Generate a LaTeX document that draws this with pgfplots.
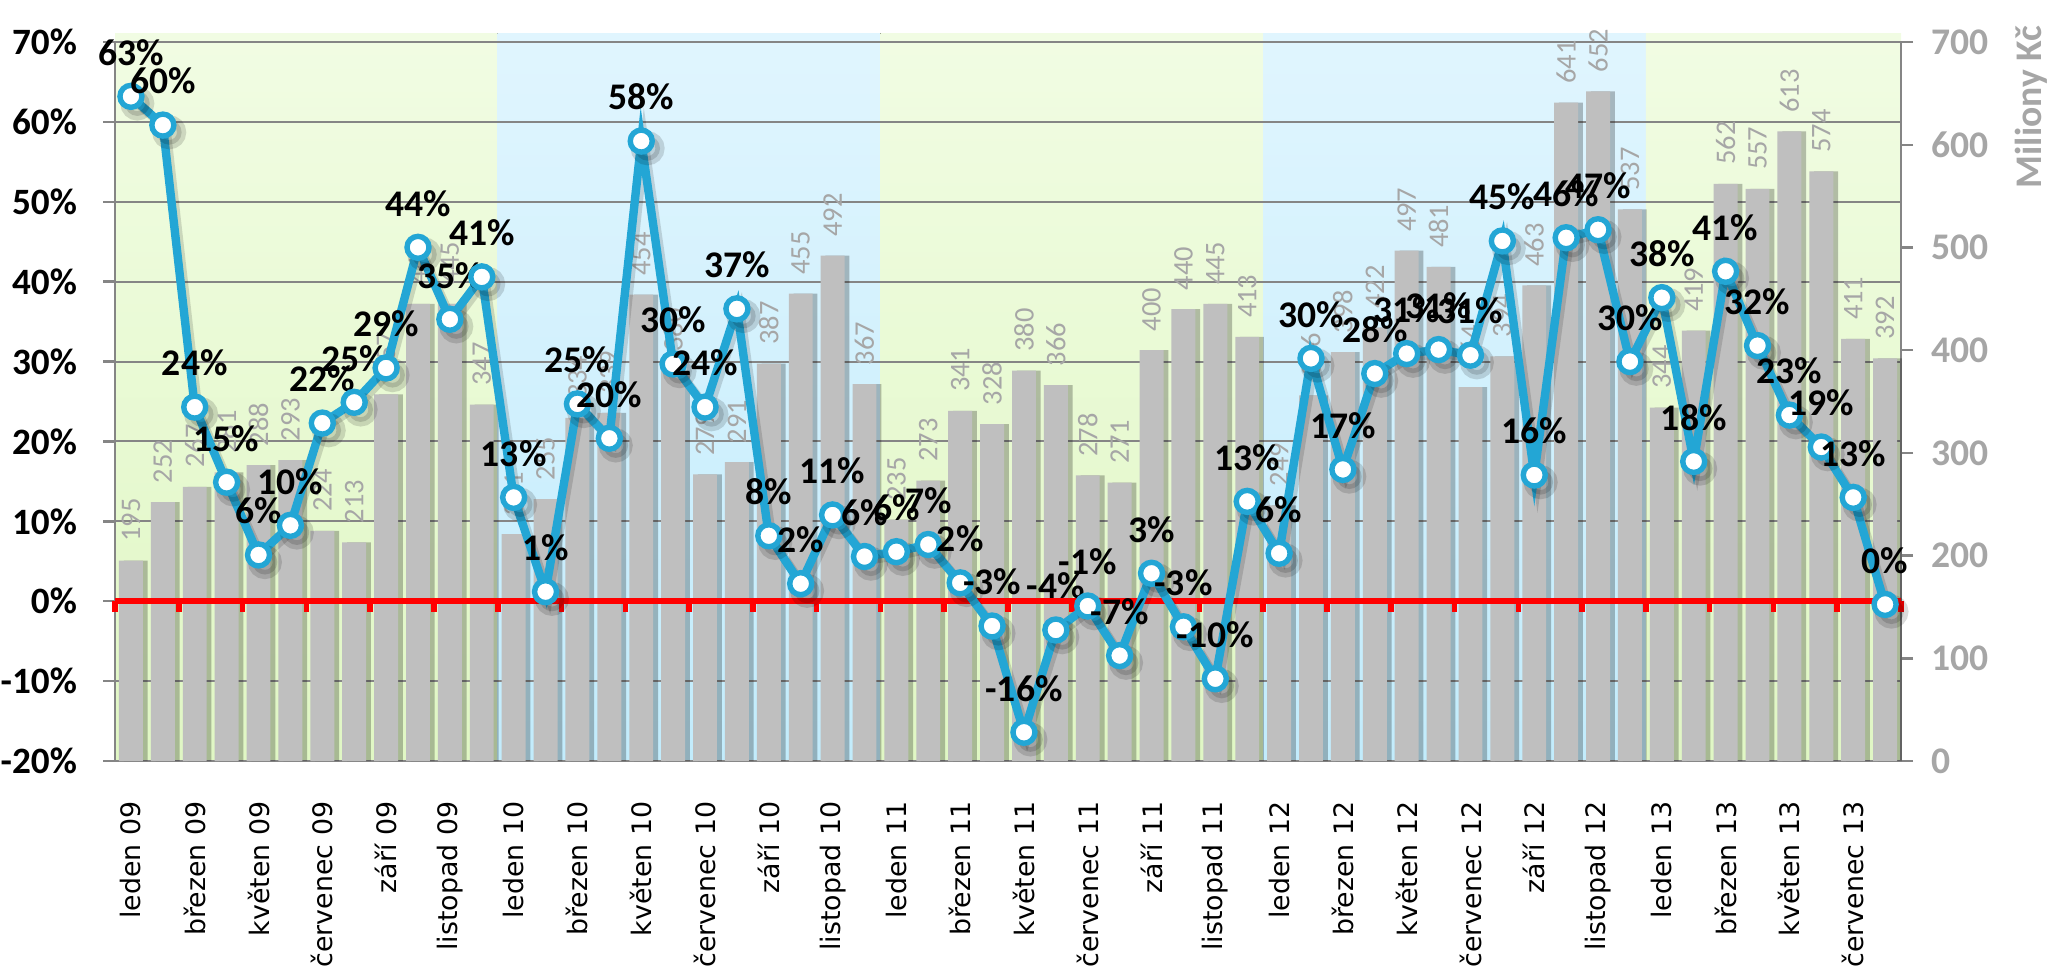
\documentclass[border=0pt]{standalone}
\usepackage{fontspec}
\setmainfont{Carlito}
\newfontfamily\dejavu{DejaVu Sans}
\usepackage{xcolor}
\usepackage{pgfplots}
\usepackage{pgfplotstable}
\pgfplotsset{compat=1.18}

\definecolor{barg}{HTML}{BFBFBF}
\definecolor{lineb}{HTML}{23A6D5}
\definecolor{lblg}{HTML}{A6A6A6}
\definecolor{gridg}{HTML}{858585}
\definecolor{grnT}{HTML}{F1FCE3}
\definecolor{grnB}{HTML}{E0F7C4}
\definecolor{bluT}{HTML}{E0F5FE}
\definecolor{bluB}{HTML}{C2ECFC}

% month index, amount (mil. Kc), change (%), label
\pgfplotstableread{
x amt pct lab
0 195 63.2 63
1 252 59.6 60
2 267 24.3 24
3 281 14.9 15
4 288 5.8 6
5 293 9.5 10
6 224 22.3 22
7 213 24.9 25
8 357 29.2 29
9 445 44.3 44
10 445 35.3 35
11 347 40.6 41
12 221 13.0 13
13 255 1.2 1
14 334 24.7 25
15 339 20.4 20
16 454 57.6 58
17 380 29.7 30
18 279 24.3 24
19 291 36.6 37
20 387 8.2 8
21 455 2.2 2
22 492 10.8 11
23 367 5.6 6
24 235 6.2 6
25 273 7.1 7
26 341 2.3 2
27 328 -3.1 -3
28 380 -16.4 -16
29 366 -3.6 -4
30 278 -0.6 -1
31 271 -6.8 -7
32 400 3.5 3
33 440 -3.2 -3
34 445 -9.7 -10
35 413 12.5 13
36 249 6.0 6
37 356 30.4 30
38 398 16.5 17
39 422 28.5 28
40 497 31.0 31
41 481 31.5 31
42 364 30.8 31
43 394 45.1 45
44 463 15.8 16
45 641 45.5 46
46 652 46.5 47
47 537 30.0 30
48 344 38.0 38
49 419 17.5 18
50 562 41.3 41
51 557 32.0 32
52 613 23.3 23
53 574 19.3 19
54 411 13.0 13
55 392 -0.4 0
}\data

\pgfplotsset{
  base/.style={scale only axis, width=446.5pt, height=179.75pt,
    xmin=-0.5, xmax=55.5, clip=false},
}

\begin{document}
\begin{tikzpicture}
% background bands, grid, left axis
\begin{axis}[base,
    ymin=-20, ymax=70,
    axis on top,
    axis lines*=left,
    axis line style={gridg, line width=0.6pt},
    xtick=\empty,
    ytick={-20,-10,...,70},
    yticklabels={-20\%,-10\%,0\%,10\%,20\%,30\%,40\%,50\%,60\%,70\%},
    yticklabel style={font=\fontsize{9.3}{10}\selectfont\bfseries, text=black, xshift=-3pt},
    ytick style={gridg, line width=0.6pt},
    tick align=outside, major tick length=3pt,
    ymajorgrids, grid style={gridg, line width=0.5pt},
]
\coordinate (pa-sw) at (rel axis cs:0,0);
\coordinate (pa-ne) at (rel axis cs:1,1);
\fill[top color=grnT, bottom color=grnB] (axis cs:-0.5,-20) rectangle (axis cs:11.5,71.1);
\fill[top color=bluT, bottom color=bluB] (axis cs:11.5,-20) rectangle (axis cs:23.5,71.1);
\fill[top color=grnT, bottom color=grnB] (axis cs:23.5,-20) rectangle (axis cs:35.5,71.1);
\fill[top color=bluT, bottom color=bluB] (axis cs:35.5,-20) rectangle (axis cs:47.5,71.1);
\fill[top color=grnT, bottom color=grnB] (axis cs:47.5,-20) rectangle (axis cs:55.5,71.1);
\end{axis}

% bars on the right axis
\begin{axis}[base,
    ymin=0, ymax=700,
    axis y line*=right, axis x line*=bottom,
    axis line style={gridg, line width=0.6pt},
    ytick={0,100,...,700},
    yticklabels={0,100,200,300,400,500,600,700},
    yticklabel style={font=\fontsize{9.4}{10}\selectfont\bfseries, text=lblg, xshift=1pt},
    ytick style={gridg, line width=0.6pt},
    tick align=outside, major tick length=3pt,
    xtick={0,2,...,54},
    xticklabels={leden 09,březen 09,květen 09,červenec 09,září 09,listopad 09,
      leden 10,březen 10,květen 10,červenec 10,září 10,listopad 10,
      leden 11,březen 11,květen 11,červenec 11,září 11,listopad 11,
      leden 12,březen 12,květen 12,červenec 12,září 12,listopad 12,
      leden 13,březen 13,květen 13,červenec 13},
    xtick style={draw=none},
    xticklabel style={rotate=90, anchor=east, inner sep=0pt,
      font=\dejavu\fontsize{6.7}{8}\selectfont, text=black},
    xticklabel shift=7pt,
    ylabel={Miliony Kč},
    every axis y label/.style={at={(rel axis cs:1,1)}, xshift=32.5pt, yshift=7.5pt,
      rotate=90, anchor=east, font=\fontsize{9.4}{10}\selectfont\bfseries, text=lblg},
]
\addplot[ybar, bar width=0.75, bar shift=1.2pt, fill=black, opacity=0.25, draw=none, forget plot]
  table[x=x, y=amt] {\data};
\addplot[ybar, bar width=0.75, bar shift=0pt, fill=barg, draw=none,
    point meta=explicit symbolic,
    nodes near coords={\pgfplotspointmeta},
    nodes near coords style={rotate=90, anchor=west, inner sep=0pt, outer xsep=4.75pt,
      font=\fontsize{7.1}{8}\selectfont, text=lblg}]
  table[x=x, y=amt, meta=amt] {\data};
\end{axis}

% zero line and the percentage series
\begin{axis}[base,
    ymin=-20, ymax=70,
    hide axis,
]
\draw[red, line width=1.5pt] (axis cs:-0.5,0) -- (axis cs:55.5,0);
\pgfplotsinvokeforeach{-0.5,1.5,...,55.5}{
  \draw[red, line width=1.4pt] (axis cs:#1,0) -- ([yshift=-2.8pt]axis cs:#1,0);
}
% soft shadow of the line
\addplot[black, opacity=0.14, line width=2.3pt, mark=*, mark size=3.1pt,
    mark options={fill=black, draw=none}, forget plot,
    transform canvas={xshift=0.8pt, yshift=-0.9pt}]
  table[x=x, y=pct] {\data};
\addplot[lineb, line width=2.1pt, mark=*, mark size=2.75pt,
    mark options={fill=white, draw=lineb, line width=1.35pt},
    point meta=explicit symbolic,
    nodes near coords={\pgfplotspointmeta\%},
    nodes near coords style={anchor=center, yshift=11pt, inner sep=0pt,
      font=\fontsize{9.4}{10}\selectfont\bfseries, text=black}]
  table[x=x, y=pct, meta=lab] {\data};
\end{axis}

\pgfresetboundingbox
\path ([shift={(-28.75pt,-52pt)}]pa-sw) rectangle ([shift={(36.75pt,10.5pt)}]pa-ne);
\end{tikzpicture}
\end{document}
